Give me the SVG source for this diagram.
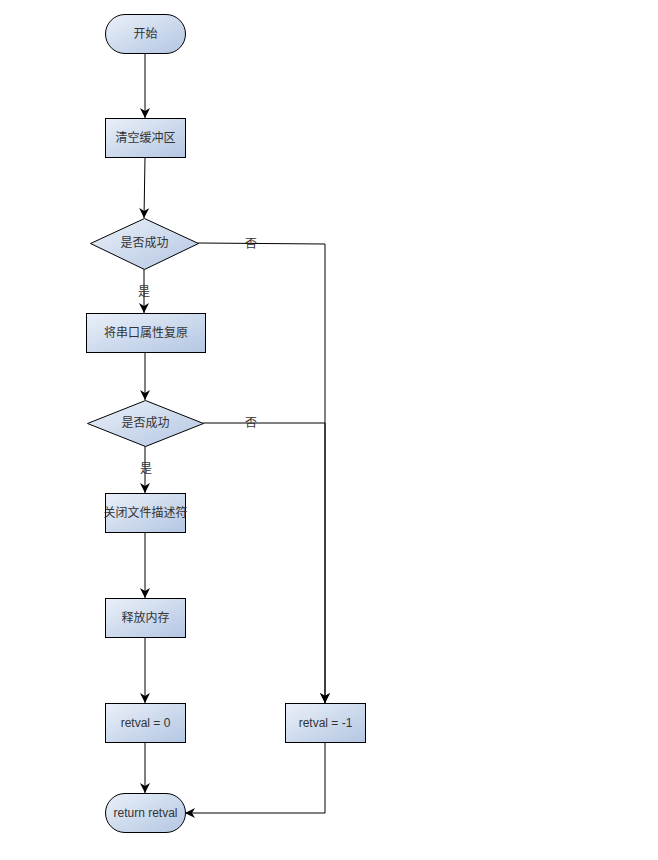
<svg xmlns="http://www.w3.org/2000/svg" width="658" height="860" viewBox="0 0 658 860">
<style>
.n{stroke:#000;stroke-width:1;fill:url(#g)}
.t{font-family:"Liberation Sans","Noto Sans CJK SC",sans-serif;font-size:12px;fill:#333;text-anchor:middle;dominant-baseline:central}
.c{stroke:#000;stroke-width:1;fill:none}
.a{marker-end:url(#ar)}
.lb{font-family:"Liberation Sans","Noto Sans CJK SC",sans-serif;font-size:12px;fill:#333;text-anchor:middle;dominant-baseline:central}
</style>
<defs>
<linearGradient id="g" x1="0" y1="0" x2="1" y2="1">
<stop offset="0" stop-color="#eaf0f9"/>
<stop offset="1" stop-color="#b3c6e2"/>
</linearGradient>
<marker id="ar" viewBox="0 0 10 10" refX="10" refY="5" markerWidth="10" markerHeight="10" markerUnits="userSpaceOnUse" orient="auto">
<path d="M0,0 L10,5 L0,10 L3,5 Z" fill="#000"/>
</marker>
</defs>
<rect width="658" height="860" fill="#fff"/>
<g id="connectors">
<path class="c a" d="M145,53 V118"/>
<path class="c a" d="M145,157 L144,218"/>
<path class="c a" d="M144,269 V313"/>
<path class="c a" d="M145,353 V400"/>
<path class="c a" d="M145,446 V493"/>
<path class="c a" d="M145,533 V598"/>
<path class="c a" d="M145,638 V703"/>
<path class="c a" d="M145,743 V793"/>
<path class="c a" d="M198,243 L325,244 V703"/>
<path class="c a" d="M203,423 H325 V703"/>
<path class="c a" d="M325,743 V813 H185"/>
<text class="lb" x="251" y="244">否</text>
<text class="lb" x="251" y="423">否</text>
<text class="lb" x="144" y="292">是</text>
<text class="lb" x="146" y="469">是</text>
</g>
<g id="start"><rect class="n" x="105.5" y="14.5" width="80" height="39" rx="19.5"/><text class="t" x="145.5" y="34">开始</text></g>
<g id="clear"><rect class="n" x="105.5" y="118.5" width="80" height="39"/><text class="t" x="145.5" y="138">清空缓冲区</text></g>
<g id="d1"><path class="n" d="M144.5,218.5 L198.5,243.5 L144.5,269.5 L90.5,243.5 Z"/><text class="t" x="144.5" y="243">是否成功</text></g>
<g id="restore"><rect class="n" x="86.5" y="313.5" width="119" height="39"/><text class="t" x="146" y="333">将串口属性复原</text></g>
<g id="d2"><path class="n" d="M145.5,400.5 L203.5,423.5 L145.5,446.5 L87.5,423.5 Z"/><text class="t" x="145.5" y="423">是否成功</text></g>
<g id="close"><rect class="n" x="105.5" y="493.5" width="80" height="39"/><text class="t" x="145.5" y="513">关闭文件描述符</text></g>
<g id="free"><rect class="n" x="105.5" y="598.5" width="80" height="39"/><text class="t" x="145.5" y="618">释放内存</text></g>
<g id="ret0"><rect class="n" x="105.5" y="703.5" width="80" height="39"/><text class="t" x="145.5" y="723">retval = 0</text></g>
<g id="retm1"><rect class="n" x="285.5" y="703.5" width="80" height="39"/><text class="t" x="325.5" y="723">retval = -1</text></g>
<g id="end"><rect class="n" x="105.5" y="793.5" width="80" height="39" rx="19.5"/><text class="t" x="145.5" y="813">return retval</text></g>
</svg>
